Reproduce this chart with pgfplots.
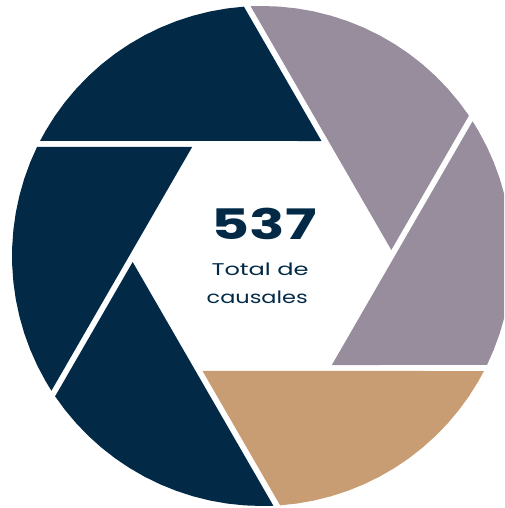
\documentclass[border=0pt]{standalone}
\usepackage{pgfplots}
\pgfplotsset{compat=1.18}
\usepgfplotslibrary{polar}
\usepackage{graphicx}
\usepackage{fontspec}
\setmainfont{Poppins}
\definecolor{navy}{HTML}{022A47}
\definecolor{lilac}{HTML}{978D9D}
\definecolor{tan}{HTML}{C89D73}
\begin{document}
\begin{tikzpicture}
\begin{axis}[
  width=504pt, height=508pt, scale only axis,
  xmin=-262, xmax=242, ymin=-252, ymax=256,
  hide axis, clip=true, enlargelimits=false]
% blade: (circle start) (tip) (circle end) then arc points, polar (angle, radius)
\addplot[data cs=polar, fill=navy, draw=none] coordinates {
 (152.61,250) (62.65,129.47) (94.15,250) (98,250) (102,250) (106,250) (110,250)
 (114,250) (118,250) (122,250) (126,250) (130,250) (134,250) (138,250) (142,250)
 (146,250) (150,250)};
\addplot[data cs=polar, fill=lilac, draw=none] coordinates {
 (92.61,250) (2.65,129.47) (34.15,250) (38,250) (42,250) (46,250) (50,250)
 (54,250) (58,250) (62,250) (66,250) (70,250) (74,250) (78,250) (82,250)
 (86,250) (90,250)};
\addplot[data cs=polar, fill=lilac, draw=none] coordinates {
 (32.61,250) (-57.35,129.47) (-25.85,250) (-22,250) (-18,250) (-14,250) (-10,250)
 (-6,250) (-2,250) (2,250) (6,250) (10,250) (14,250) (18,250) (22,250)
 (26,250) (30,250)};
\addplot[data cs=polar, fill=tan, draw=none] coordinates {
 (-27.39,250) (-117.35,129.47) (-85.85,250) (-82,250) (-78,250) (-74,250) (-70,250)
 (-66,250) (-62,250) (-58,250) (-54,250) (-50,250) (-46,250) (-42,250) (-38,250)
 (-34,250) (-30,250)};
\addplot[data cs=polar, fill=navy, draw=none] coordinates {
 (-87.39,250) (-177.35,129.47) (-145.85,250) (-142,250) (-138,250) (-134,250) (-130,250)
 (-126,250) (-122,250) (-118,250) (-114,250) (-110,250) (-106,250) (-102,250) (-98,250)
 (-94,250) (-90,250)};
\addplot[data cs=polar, fill=navy, draw=none] coordinates {
 (-147.39,250) (-237.35,129.47) (-205.85,250) (-202,250) (-198,250) (-194,250) (-190,250)
 (-186,250) (-182,250) (-178,250) (-174,250) (-170,250) (-166,250) (-162,250) (-158,250)
 (-154,250) (-150,250)};
\node[anchor=base, inner sep=0pt, text=navy] at (axis cs:2,16)
  {\resizebox{105pt}{\height}{\fontsize{42}{42}\selectfont\bfseries 537}};
\node[anchor=base, inner sep=0pt, text=navy] at (axis cs:-2,-20)
  {\resizebox{97pt}{\height}{\fontsize{17}{17}\selectfont Total de}};
\node[anchor=base, inner sep=0pt, text=navy] at (axis cs:-4.8,-47.3)
  {\resizebox{101pt}{\height}{\fontsize{17}{17}\selectfont causales}};
\end{axis}
\pgfresetboundingbox
\path (current axis.south west) rectangle (current axis.north east);
\end{tikzpicture}
\end{document}
